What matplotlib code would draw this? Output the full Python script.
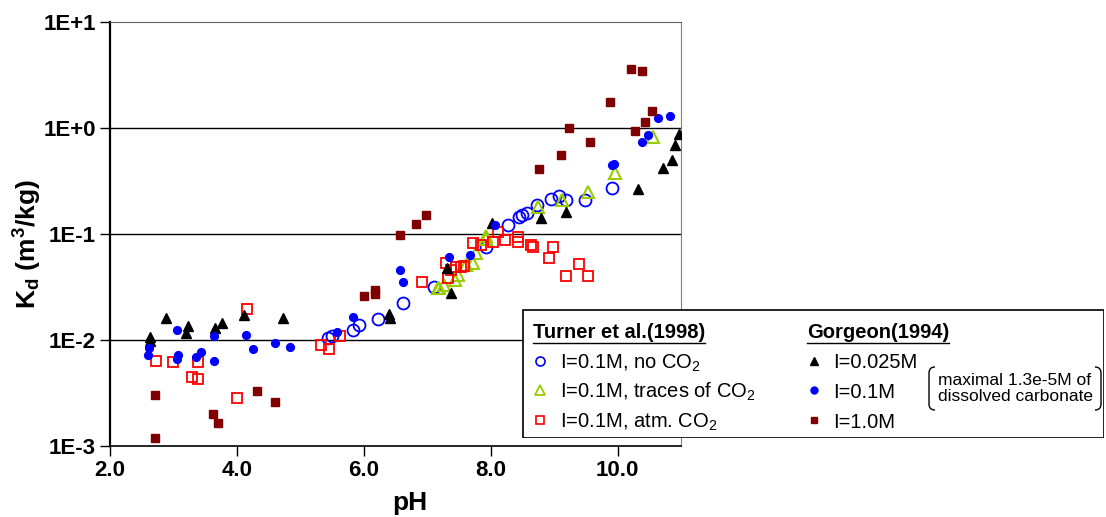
import matplotlib.pyplot as plt
from matplotlib.path import Path
from matplotlib.patches import PathPatch, Rectangle

plt.rcParams['font.family'] = ['Liberation Sans', 'DejaVu Sans']
plt.rcParams['mathtext.default'] = 'regular'

# Turner et al. (1998), I=0.1M, no CO2
ph_nco2 = [5.44, 5.50, 5.83, 5.93, 6.22, 6.62, 7.11, 7.93, 8.27, 8.45, 8.50, 8.58,
           8.73, 8.95, 9.07, 9.19, 9.48, 9.91]
kd_nco2 = [0.0104, 0.0109, 0.0124, 0.0138, 0.0156, 0.0221, 0.0313, 0.0759, 0.1216,
           0.144, 0.151, 0.157, 0.188, 0.213, 0.229, 0.209, 0.209, 0.270]

# Turner et al. (1998), I=0.1M, traces of CO2
ph_tco2 = [7.17, 7.19, 7.27, 7.43, 7.48, 7.61, 7.72, 7.77, 7.92, 7.93, 8.74, 9.13,
           9.54, 9.96, 10.56]
kd_tco2 = [0.0307, 0.031, 0.033, 0.0367, 0.041, 0.0509, 0.0536, 0.0658, 0.089, 0.0955,
           0.179, 0.209, 0.251, 0.379, 0.82]

# Turner et al. (1998), I=0.1M, atm. CO2
ph_aco2 = [2.73, 2.99, 3.39, 3.30, 3.39, 4.16, 4.00, 5.32, 5.45, 5.62, 6.91, 7.30,
           7.33, 7.38, 7.45, 7.53, 7.58, 7.72, 7.85, 8.03, 8.11, 8.22, 8.43, 8.43,
           8.63, 8.66, 8.92, 8.99, 9.19, 9.39, 9.53]
kd_aco2 = [0.00635, 0.00614, 0.00614, 0.00443, 0.00424, 0.0196, 0.00284, 0.00894,
           0.00813, 0.0109, 0.0354, 0.0536, 0.0381, 0.0457, 0.049, 0.049, 0.050,
           0.0828, 0.0787, 0.0846, 0.105, 0.0877, 0.0944, 0.0846, 0.0787, 0.0758,
           0.0589, 0.0759, 0.0401, 0.0518, 0.0401]

# Gorgeon (1994), I=0.025M
ph_g025 = [2.63, 2.63, 2.88, 3.23, 3.20, 3.65, 3.77, 4.11, 4.73, 6.40, 6.41, 7.31,
           7.38, 8.02, 8.79, 9.18, 10.33, 10.72, 10.86, 10.90, 10.97]
kd_g025 = [0.0107, 0.0098, 0.016, 0.0135, 0.0117, 0.0129, 0.0145, 0.0172, 0.0162,
           0.0174, 0.0160, 0.0474, 0.0279, 0.128, 0.141, 0.163, 0.264, 0.418, 0.50,
           0.69, 0.89]

# Gorgeon (1994), I=0.1M
ph_g01 = [2.62, 2.60, 3.05, 3.07, 3.05, 3.44, 3.36, 3.64, 3.64, 4.14, 4.26, 4.60,
          4.84, 5.58, 5.83, 6.57, 6.62, 7.35, 7.68, 8.07, 9.91, 9.95, 10.39, 10.48,
          10.63, 10.82]
kd_g01 = [0.00832, 0.0072, 0.0124, 0.0072, 0.00655, 0.00773, 0.00693, 0.01087,
          0.00635, 0.0111, 0.0082, 0.00927, 0.0086, 0.0119, 0.0163, 0.0457, 0.0354,
          0.0603, 0.0634, 0.1216, 0.449, 0.46, 0.734, 0.861, 1.25, 1.29]

# Gorgeon (1994), I=1.0M
ph_g1 = [2.71, 2.71, 3.63, 3.70, 4.32, 4.60, 6.00, 6.17, 6.17, 6.57, 6.82, 6.98,
         8.76, 9.11, 9.23, 9.57, 9.88, 10.21, 10.39, 10.28, 10.43, 10.55]
kd_g1 = [0.00301, 0.00117, 0.00199, 0.00165, 0.00331, 0.00257, 0.0259, 0.0296,
         0.0271, 0.0973, 0.124, 0.150, 0.408, 0.557, 1.0, 0.734, 1.75, 3.62, 3.49,
         0.946, 1.15, 1.46]

x_ticks = [2, 4, 6, 8, 10]
y_ticks = [1e-3, 1e-2, 1e-1, 1e0, 1e1]
y_labels = ['1E-3', '1E-2', '1E-1', '1E+0', '1E+1']

blue = '#0000FF'
green = '#99CC00'
red = '#FF0000'
dark_red = '#800000'

W, H = 1106, 517
fig = plt.figure(figsize=(W / 100, H / 100), dpi=100)
ax = fig.add_axes([110 / W, 1 - 445.7 / H, (681 - 110) / W, (445.7 - 22.3) / H])

ax.set_yscale('log')
ax.set_xlim(2, 11)
ax.set_ylim(1e-3, 1e1)
ax.set_xticks(x_ticks)
ax.set_xticklabels(['%.1f' % t for t in x_ticks])
ax.set_yticks(y_ticks)
ax.set_yticklabels(y_labels)
ax.minorticks_off()
for v in y_ticks[1:-1]:
    ax.axhline(v, color='black', lw=1.0, zorder=1)

ax.tick_params(axis='both', direction='out', length=7, width=1, labelsize=16, pad=3)
for lab in ax.get_xticklabels() + ax.get_yticklabels():
    lab.set_fontweight('bold')

ax.spines['left'].set_linewidth(1.6)
ax.spines['bottom'].set_linewidth(1.2)
ax.spines['top'].set_color('#606060')
ax.spines['right'].set_color('#808080')

ax.plot(ph_nco2, kd_nco2, 'o', mfc='none', mec=blue, mew=1.3, ms=8.6, zorder=3)
ax.plot(ph_tco2, kd_tco2, '^', mfc='none', mec=green, mew=1.5, ms=8.6, zorder=3)
ax.plot(ph_aco2, kd_aco2, 's', mfc='none', mec=red, mew=1.3, ms=7.4, zorder=3)
ax.plot(ph_g025, kd_g025, '^', color='black', ms=6.8, zorder=4)
ax.plot(ph_g01, kd_g01, 'o', color=blue, ms=5.6, zorder=4)
ax.plot(ph_g1, kd_g1, 's', color=dark_red, ms=6.0, zorder=4)

fig.text(410 / W, 1 - 503 / H, 'pH', ha='center', va='center', fontsize=19,
         fontweight='bold')
fig.text(28 / W, 1 - 244 / H, 'K$_d$ (m$^3$/kg)', ha='center', va='center',
         rotation=90, fontsize=19, fontweight='bold')

# legend drawn in pixel coordinates of its own axes
lx0, ly0, lx1, ly1 = 522, 309, 1104, 438
lax = fig.add_axes([lx0 / W, 1 - ly1 / H, (lx1 - lx0) / W, (ly1 - ly0) / H])
lax.set_xlim(lx0, lx1)
lax.set_ylim(ly1, ly0)
lax.axis('off')
lax.add_patch(Rectangle((lx0 + 0.5, ly0 + 0.5), lx1 - lx0 - 1, ly1 - ly0 - 1,
                        fill=True, fc='white', ec='black', lw=1.2))

titles = []
titles.append(lax.text(533, 333, 'Turner et al.(1998)', fontsize=14.5,
                       fontweight='bold', va='center', ha='left'))
titles.append(lax.text(807, 333, 'Gorgeon(1994)', fontsize=14.5,
                       fontweight='bold', va='center', ha='left'))
# underline each title over its own rendered width
fig.canvas.draw()
inv = lax.transData.inverted()
for t in titles:
    bb = t.get_window_extent()
    (x_a, _), (x_b, _) = inv.transform([(bb.x0, bb.y0), (bb.x1, bb.y0)])
    lax.plot([x_a, x_b], [343, 343], color='black', lw=1)

rows = [363, 392, 422]
turner = [('o', dict(mfc='none', mec=blue, mew=1.2, ms=6.5), 'I=0.1M, no CO$_2$'),
          ('^', dict(mfc='none', mec=green, mew=1.3, ms=6.5), 'I=0.1M, traces of CO$_2$'),
          ('s', dict(mfc='none', mec=red, mew=1.2, ms=6.0), 'I=0.1M, atm. CO$_2$')]
gorgeon = [('^', dict(color='black', ms=5.5), 'I=0.025M'),
           ('o', dict(color=blue, ms=5.0), 'I=0.1M'),
           ('s', dict(color=dark_red, ms=5.0), 'I=1.0M')]
for yy, (m, kw, txt) in zip(rows, turner):
    lax.plot([540], [yy - 2], m, **kw)
    lax.text(560, yy, txt, fontsize=14.5, va='center', ha='left')
for yy, (m, kw, txt) in zip(rows, gorgeon):
    lax.plot([814], [yy - 2], m, **kw)
    lax.text(833, yy, txt, fontsize=14.5, va='center', ha='left')

# bracket note
bx0, bx1, by0, by1, r = 929, 1101, 367, 410, 6
left = Path([(bx0 + r, by0), (bx0, by0), (bx0, by0 + r), (bx0, by1 - r),
             (bx0, by1), (bx0 + r, by1)],
            [Path.MOVETO, Path.CURVE3, Path.CURVE3, Path.LINETO, Path.CURVE3, Path.CURVE3])
right = Path([(bx1 - r, by0), (bx1, by0), (bx1, by0 + r), (bx1, by1 - r),
              (bx1, by1), (bx1 - r, by1)],
             [Path.MOVETO, Path.CURVE3, Path.CURVE3, Path.LINETO, Path.CURVE3, Path.CURVE3])
lax.add_patch(PathPatch(left, fill=False, lw=1, ec='black'))
lax.add_patch(PathPatch(right, fill=False, lw=1, ec='black'))
lax.text((bx0 + bx1) / 2, (by0 + by1) / 2, 'maximal 1.3e-5M of\ndissolved carbonate',
         fontsize=12.5, ha='center', va='center', linespacing=1.05)

fig.savefig('out.png', dpi=100)
